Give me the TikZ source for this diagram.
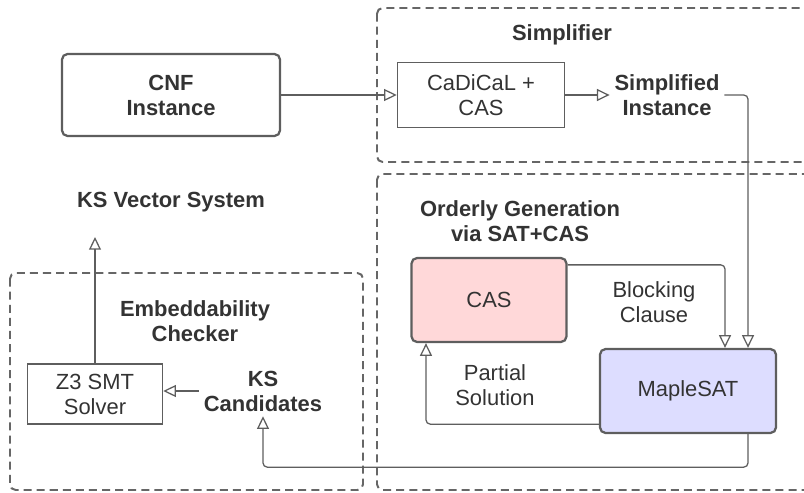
\documentclass[tikz,border=0pt]{standalone}
\usepackage{fontspec}
\setmainfont{Liberation Sans}
\usetikzlibrary{arrows.meta,positioning}
\definecolor{linegray}{HTML}{5E5E5E}
\definecolor{regiongray}{HTML}{666666}
\definecolor{textgray}{HTML}{333333}
\definecolor{casfill}{HTML}{FFD8D9}
\definecolor{satfill}{HTML}{DDDDFF}
\newcommand{\diagfont}{\fontsize{15.6}{17.8}\selectfont}
\tikzset{
  box/.style={draw=linegray, line width=1.6pt, rounded corners=4pt, text=textgray, align=center, font=\diagfont},
  plainbox/.style={draw=linegray, line width=1pt, text=textgray, align=center, font=\diagfont},
  region/.style={draw=regiongray, line width=1.4pt, dash pattern=on 5.7pt off 3.6pt, rounded corners=4pt},
  title/.style={text=textgray, align=center, font=\diagfont\bfseries},
  note/.style={text=textgray, align=center, font=\diagfont},
  flow/.style={draw=linegray, line width=0.9pt, rounded corners=3pt, -{Triangle[open,length=9pt,width=8.5pt,line width=0.9pt]}}
}

\begin{document}
\begin{tikzpicture}[x=0.025cm, y=-0.025cm]
  \useasboundingbox (0,0) rectangle (804,493);
  \clip (0,0) rectangle (804,493);
  % dashed regions
  \draw[region] (377,8) rectangle (840,162);
  \draw[region] (377,174) rectangle (840,490);
  \draw[region] (10,273) rectangle (363,490);
  % titles
  \node[title] (simptitle) at (562,35) {Simplifier};
  \node[title] (ordtitle) at (520,221) {Orderly Generation\\via SAT+CAS};
  \node[title] (embtitle) at (195,321) {Embeddability\\Checker};
  % nodes
  \node[box, font=\diagfont\bfseries, minimum width=5.45cm, minimum height=2.05cm] (cnf) at (171,95) {CNF\\Instance};
  \node[plainbox, minimum width=4.175cm, minimum height=1.625cm] (cadical) at (481,95) {CaDiCaL +\\CAS};
  \node[title] (simp) at (667,95) {Simplified\\Instance};
  \node[box, fill=casfill, minimum width=3.875cm, minimum height=2.1cm] (cas) at (489,300) {CAS};
  \node[box, fill=satfill, minimum width=4.4cm, minimum height=2.1cm] (maple) at (688,391) {MapleSAT};
  \node[note] (block) at (654,302) {Blocking\\Clause};
  \node[note] (partial) at (495,385) {Partial\\Solution};
  \node[plainbox, minimum width=3.375cm, minimum height=1.5cm] (z3) at (95,394) {Z3 SMT\\Solver};
  \node[title] (ks) at (263,391) {KS\\Candidates};
  \node[title] (vec) at (171,202) {KS Vector System};
  \coordinate (vecin) at (95,237);
  % connectors
  \draw[flow] (cnf.east) -- (cadical.west);
  \draw[flow] (cadical.east) -- (cadical.east -| simp.west);
  \draw[flow] (simp.east) -| ([xshift=1.5cm]maple.north);
  \draw[flow] ([yshift=-0.2cm]cas.north east) -| ([xshift=0.925cm]maple.north);
  \draw[flow] ([yshift=0.25cm]maple.south west) -| ([xshift=-1.575cm]cas.south);
  \draw[flow] ([xshift=1.5cm]maple.south) -- ++(0,33) -| (ks.south);
  \draw[flow] (ks.west) -- (ks.west -| z3.east);
  \draw[flow] (z3.north) -- (vecin);
\end{tikzpicture}
\end{document}
